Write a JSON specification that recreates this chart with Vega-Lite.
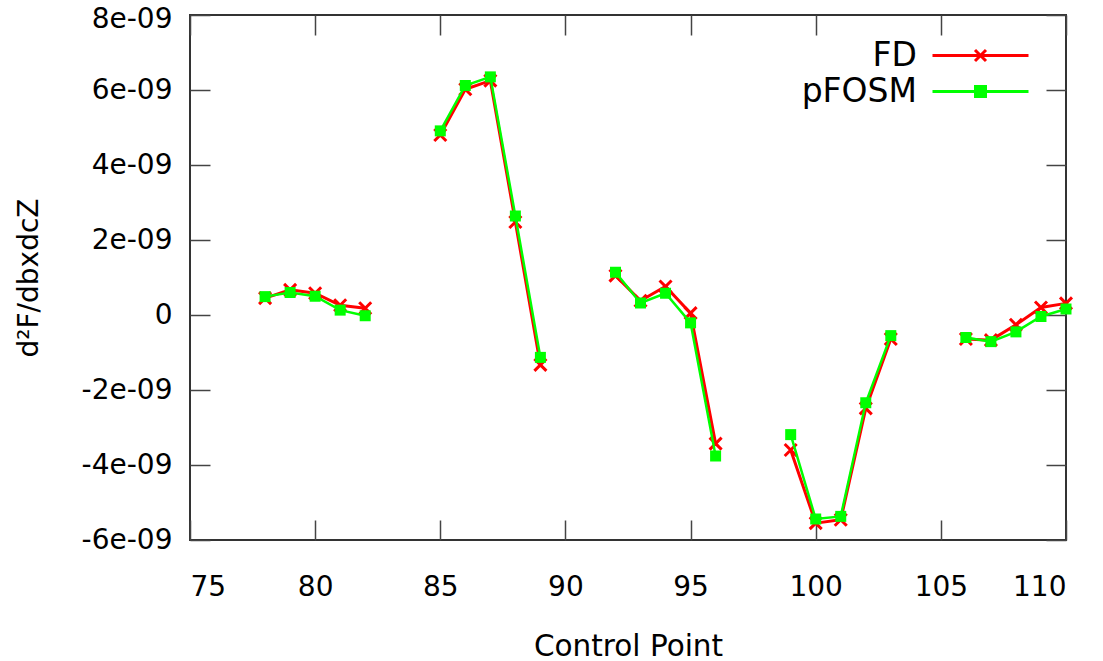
{
  "$schema": "https://vega.github.io/schema/vega-lite/v6.json",
  "width": 876,
  "height": 525,
  "autosize": {"type": "none"},
  "padding": {"left": 190, "top": 15, "right": 37, "bottom": 121},
  "background": "white",
  "config": {
    "font": "DejaVu Sans",
    "view": {"stroke": "#333333", "strokeWidth": 2},
    "axis": {
      "domain": false,
      "grid": false,
      "tickColor": "#444444",
      "tickWidth": 1.5,
      "tickSize": -20,
      "labelColor": "#000000",
      "labelFont": "DejaVu Sans",
      "labelFontSize": 28,
      "titleFont": "DejaVu Sans",
      "titleFontSize": 28,
      "titleFontWeight": "normal",
      "titleColor": "#000000"
    }
  },
  "data": {
    "values": [
      {"cp": 78, "seg": 1, "FD": 4.5e-10, "pFOSM": 4.9e-10},
      {"cp": 79, "seg": 1, "FD": 6.7e-10, "pFOSM": 6.0e-10},
      {"cp": 80, "seg": 1, "FD": 5.8e-10, "pFOSM": 5.0e-10},
      {"cp": 81, "seg": 1, "FD": 2.6e-10, "pFOSM": 1.3e-10},
      {"cp": 82, "seg": 1, "FD": 1.8e-10, "pFOSM": -2e-11},
      {"cp": 85, "seg": 2, "FD": 4.80e-9, "pFOSM": 4.91e-9},
      {"cp": 86, "seg": 2, "FD": 6.02e-9, "pFOSM": 6.12e-9},
      {"cp": 87, "seg": 2, "FD": 6.25e-9, "pFOSM": 6.35e-9},
      {"cp": 88, "seg": 2, "FD": 2.48e-9, "pFOSM": 2.64e-9},
      {"cp": 89, "seg": 2, "FD": -1.33e-9, "pFOSM": -1.13e-9},
      {"cp": 92, "seg": 3, "FD": 1.05e-9, "pFOSM": 1.14e-9},
      {"cp": 93, "seg": 3, "FD": 3.8e-10, "pFOSM": 3.2e-10},
      {"cp": 94, "seg": 3, "FD": 7.6e-10, "pFOSM": 5.8e-10},
      {"cp": 95, "seg": 3, "FD": 5e-11, "pFOSM": -2.1e-10},
      {"cp": 96, "seg": 3, "FD": -3.43e-9, "pFOSM": -3.76e-9},
      {"cp": 99, "seg": 4, "FD": -3.60e-9, "pFOSM": -3.19e-9},
      {"cp": 100, "seg": 4, "FD": -5.55e-9, "pFOSM": -5.44e-9},
      {"cp": 101, "seg": 4, "FD": -5.46e-9, "pFOSM": -5.37e-9},
      {"cp": 102, "seg": 4, "FD": -2.49e-9, "pFOSM": -2.34e-9},
      {"cp": 103, "seg": 4, "FD": -6.4e-10, "pFOSM": -5.5e-10},
      {"cp": 106, "seg": 5, "FD": -6.4e-10, "pFOSM": -6.0e-10},
      {"cp": 107, "seg": 5, "FD": -6.7e-10, "pFOSM": -7.1e-10},
      {"cp": 108, "seg": 5, "FD": -2.6e-10, "pFOSM": -4.5e-10},
      {"cp": 109, "seg": 5, "FD": 2.0e-10, "pFOSM": -4e-11},
      {"cp": 110, "seg": 5, "FD": 3.1e-10, "pFOSM": 1.6e-10}
    ]
  },
  "transform": [{"fold": ["FD", "pFOSM"], "as": ["series", "val"]}],
  "encoding": {
    "x": {"field": "cp", "type": "quantitative", "scale": {"domain": [75, 110], "nice": false, "zero": false}},
    "y": {"field": "val", "type": "quantitative", "scale": {"domain": [-6e-9, 8e-9], "nice": false, "zero": false}},
    "color": {"field": "series", "type": "nominal", "scale": {"domain": ["FD", "pFOSM"], "range": ["#ff0000", "#00ff00"]}},
    "detail": {"field": "seg", "type": "nominal"}
  },
  "layer": [
    {
      "transform": [{"filter": "datum.series === 'FD'"}],
      "mark": {"type": "line", "strokeWidth": 3},
      "encoding": {
        "x": {"field": "cp", "type": "quantitative", "axis": {"orient": "bottom", "values": [75, 80, 85, 90, 95, 100, 105, 110], "title": "Control Point", "titleFontSize": 29.5, "labelFontSize": 28, "labelPadding": 53, "titlePadding": 31}},
        "y": {"field": "val", "type": "quantitative", "axis": {"orient": "left", "values": [-6e-9, -4e-9, -2e-9, 0, 2e-9, 4e-9, 6e-9, 8e-9], "title": "d²F/dbxdcZ", "labelFontSize": 28, "labelPadding": 38, "titlePadding": 38, "labelExpr": "datum.value == 0 ? '0' : round(datum.value / 1e-9) + 'e-09'", "labelOffset": {"condition": {"test": "datum.value > 7e-9", "value": 4}, "value": 0}}},
        "color": {
          "field": "series",
          "type": "nominal",
          "legend": {
            "title": null,
            "orient": "none",
            "legendX": 774,
            "legendY": 24,
            "padding": 0,
            "symbolSize": 400,
            "symbolStrokeWidth": 3,
            "labelFont": "DejaVu Sans",
            "labelFontSize": 33,
            "labelAlign": "right",
            "labelOffset": -80,
            "rowPadding": 2,
            "labelColor": "#000000",
            "encode": {
              "symbols": {
                "update": {
                  "shape": {"signal": "datum.value === 'FD' ? 'M-4.8,0L4.8,0M-0.55,-0.55L0.55,0.55M-0.55,0.55L0.55,-0.55' : 'M-4.8,0L4.8,0M-0.5,-0.5L0.5,-0.5L0.5,0.5L-0.5,0.5Z'"},
                  "stroke": {"signal": "datum.value === 'FD' ? '#ff0000' : '#00ff00'"},
                  "fill": {"signal": "datum.value === 'FD' ? '#ff0000' : '#00ff00'"},
                  "strokeWidth": {"value": 3},
                  "opacity": {"value": 1}
                }
              }
            }
          }
        }
      }
    },
    {
      "transform": [{"filter": "datum.series === 'FD'"}],
      "mark": {"type": "point", "shape": "M-1,-1L1,1M-1,1L1,-1", "filled": false, "size": 144, "strokeWidth": 3, "opacity": 1},
      "encoding": {
        "x": {"field": "cp", "type": "quantitative", "axis": null},
        "y": {"field": "val", "type": "quantitative", "axis": null}
      }
    },
    {
      "transform": [{"filter": "datum.series === 'pFOSM'"}],
      "mark": {"type": "line", "strokeWidth": 2.5},
      "encoding": {
        "x": {"field": "cp", "type": "quantitative", "axis": null},
        "y": {"field": "val", "type": "quantitative", "axis": null}
      }
    },
    {
      "transform": [{"filter": "datum.series === 'pFOSM'"}],
      "mark": {"type": "point", "shape": "square", "filled": true, "size": 121, "opacity": 1},
      "encoding": {
        "x": {"field": "cp", "type": "quantitative", "axis": {"orient": "top", "values": [75, 80, 85, 90, 95, 100, 105, 110], "labels": false, "title": null}},
        "y": {"field": "val", "type": "quantitative", "axis": {"orient": "right", "values": [-6e-9, -4e-9, -2e-9, 0, 2e-9, 4e-9, 6e-9, 8e-9], "labels": false, "title": null}}
      }
    }
  ],
  "resolve": {"axis": {"x": "independent", "y": "independent"}}
}
